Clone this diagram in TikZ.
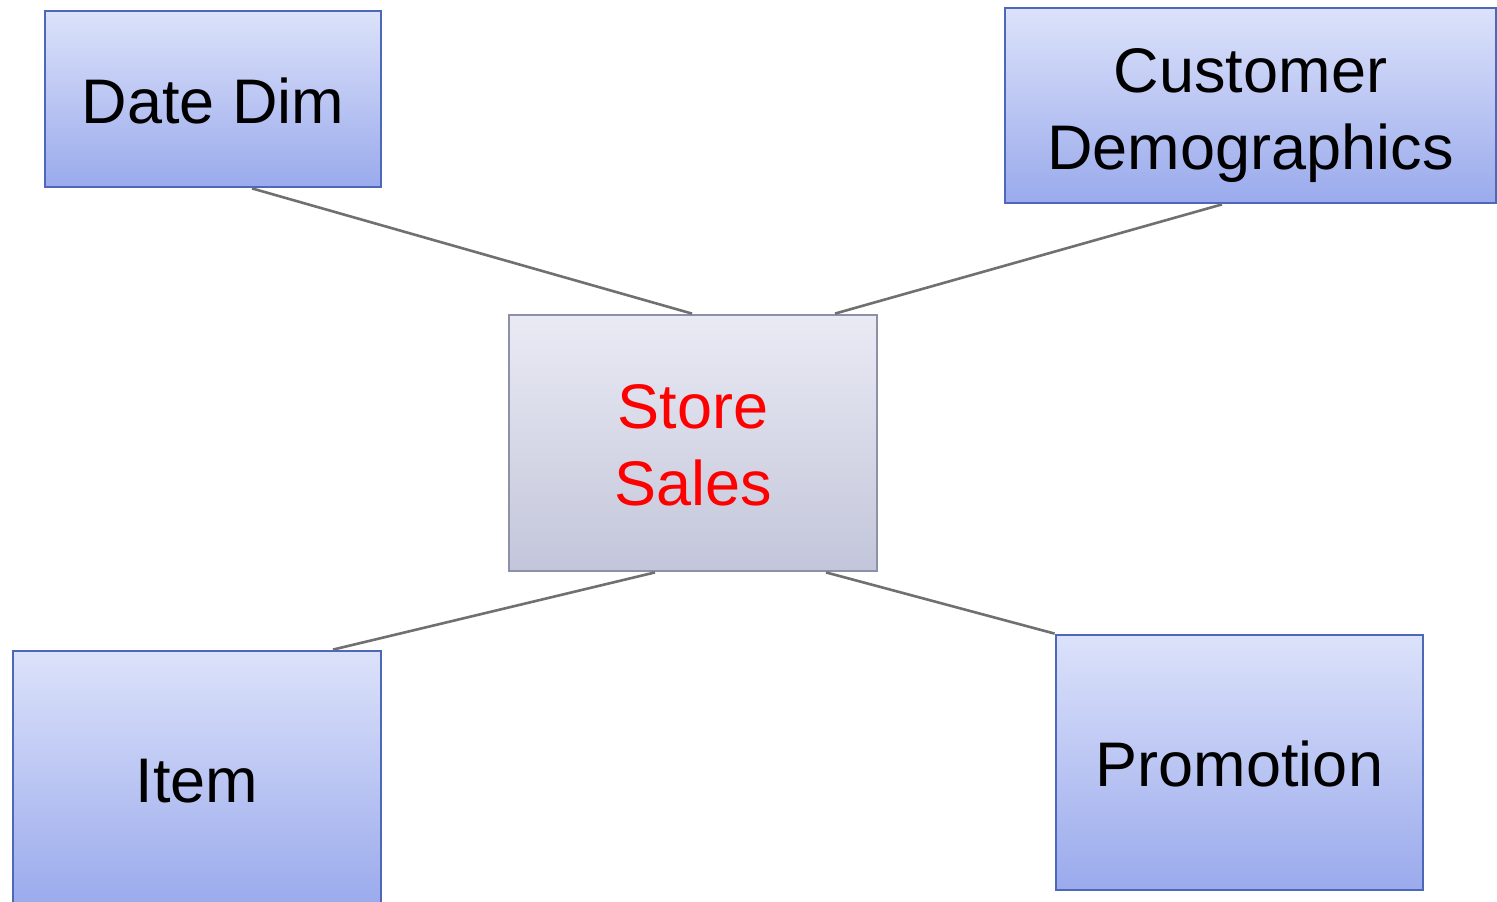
\documentclass[tikz,border=0pt]{standalone}
\usepackage{fontspec}
\setmainfont{Liberation Sans}
\definecolor{dimtop}{HTML}{DCE2FA}
\definecolor{dimbot}{HTML}{9AAAEC}
\definecolor{dimline}{HTML}{4D68B8}
\definecolor{facttop}{HTML}{E9EAF4}
\definecolor{factbot}{HTML}{C3C6DA}
\definecolor{factline}{HTML}{8D91A5}
\definecolor{linkgray}{HTML}{707070}
% label whose first baseline sits #1 below the centre of its box
\newcommand{\boxtext}[2]{\raisebox{-#1}[0pt][0pt]{\begin{tabular}[t]{@{}c@{}}#2\end{tabular}}}
\tikzset{
  dimbox/.style={rectangle, draw=dimline, line width=2.8pt, top color=dimtop,
    bottom color=dimbot, inner sep=0pt,
    font=\fontsize{63}{77}\selectfont},
  factbox/.style={rectangle, draw=factline, line width=2.8pt, top color=facttop,
    bottom color=factbot, inner sep=0pt, text=red,
    font=\fontsize{63}{77}\selectfont},
  link/.style={draw=linkgray, line width=2.6pt}
}
\begin{document}
\begin{tikzpicture}[x=1pt,y=-1pt]
  \useasboundingbox (0,0) rectangle (1497,902);
  \clip (0,0) rectangle (1497,902);
  \fill[white] (0,0) rectangle (1497,902);

  % fact table in the middle, dimension tables around it
  \node[factbox, minimum width=368pt, minimum height=256pt] (store) at (693,443) {\boxtext{-15pt}{Store\\Sales}};
  \node[dimbox, minimum width=336pt, minimum height=176pt] (date) at (213,99) {\boxtext{24pt}{Date Dim}};
  \node[dimbox, minimum width=491pt, minimum height=195pt] (cust) at (1250.5,105.5) {\boxtext{-13.5pt}{Customer\\Demographics}};
  \node[dimbox, minimum width=368pt, minimum height=255pt] (item) at (197,778.5) {\boxtext{24pt}{Item}};
  \node[dimbox, minimum width=367pt, minimum height=255pt] (promo) at (1239.5,762.5) {\boxtext{24pt}{Promotion}};

  % joins between the fact table and each dimension
  \draw[link] ([xshift=39pt]date.south) -- ([xshift=-1pt]store.north);
  \draw[link] ([xshift=-28.5pt]cust.south) -- ([xshift=142pt]store.north);
  \draw[link] ([xshift=-38pt]store.south) -- ([xshift=136pt]item.north);
  \draw[link] ([xshift=133pt]store.south) -- (promo.north west);
\end{tikzpicture}
\end{document}
